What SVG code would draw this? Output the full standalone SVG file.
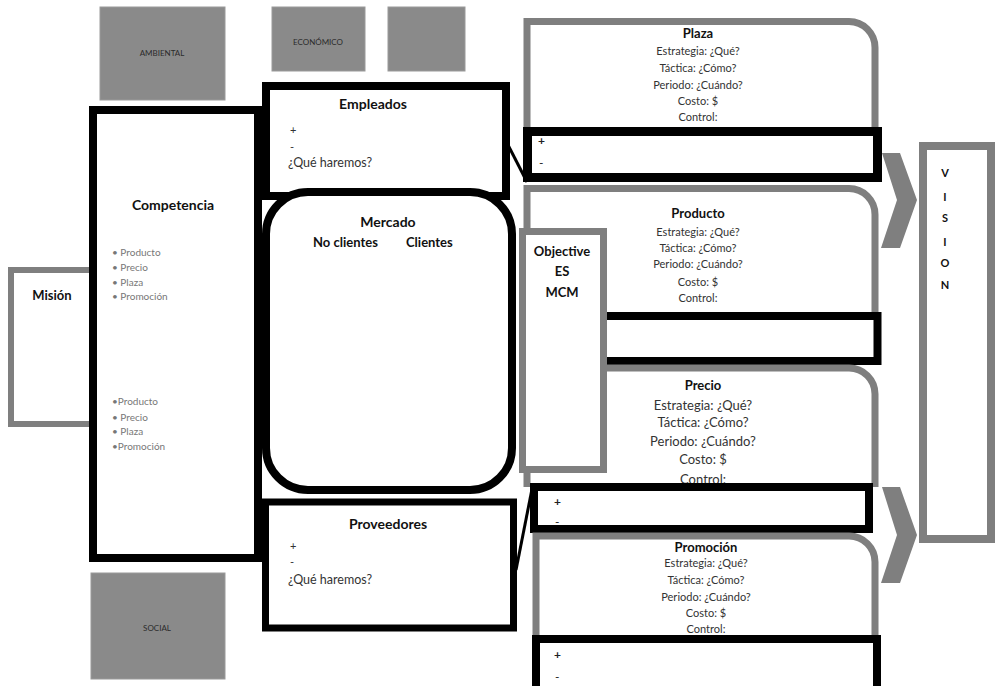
<svg xmlns="http://www.w3.org/2000/svg" width="995" height="686" viewBox="0 0 995 686">
<style>
  .env{fill:#8a8a8a;stroke:#9a9a9a;stroke-width:1}
  .envt{font-family:Lato,"Liberation Sans",sans-serif;font-size:8px;fill:#2a2a2a;text-anchor:middle}
  .blk{fill:#fff;stroke:#000}
  .gry{fill:#fff;stroke:#7f7f7f}
  .ttl{font-family:Lato,"Liberation Sans",sans-serif;font-weight:bold;fill:#111}
  .mid{text-anchor:middle}
  .sm{font-family:Lato,"Liberation Sans",sans-serif;font-size:11px;fill:#333;text-anchor:middle}
  .md{font-family:Lato,"Liberation Sans",sans-serif;font-size:13px;fill:#333;text-anchor:middle}
  .lst{font-family:Lato,"Liberation Sans",sans-serif;font-size:10px;fill:#777}
  .bod{font-family:Lato,"Liberation Sans",sans-serif;font-size:11px;fill:#333}
  .q{font-family:Lato,"Liberation Sans",sans-serif;font-size:12.5px;fill:#333}
  .pm{font-family:Lato,"Liberation Sans",sans-serif;font-size:12px;fill:#222}
  .chev{fill:#7f7f7f}
  .con{stroke:#000;stroke-width:3;fill:none}
</style>

<g id="ambiental"><rect class="env" x="100" y="7" width="125" height="93"/><text class="envt" x="162" y="56">AMBIENTAL</text></g>
<g id="economico"><rect class="env" x="272" y="7" width="93" height="64"/><text class="envt" x="318" y="45">ECONÓMICO</text></g>
<g id="politico"><rect class="env" x="388" y="7" width="77" height="64"/></g>
<g id="social"><rect class="env" x="91" y="573" width="134" height="106"/><text class="envt" x="157" y="631">SOCIAL</text></g>

<g id="mision"><rect class="gry" x="11" y="270" width="90" height="154" stroke-width="6"/><text class="ttl mid" x="52" y="300" font-size="13">Misión</text></g>

<g id="competencia">
  <rect class="blk" x="93" y="110" width="165" height="448" stroke-width="8"/>
  <text class="ttl mid" x="173" y="210" font-size="14">Competencia</text>
  <text class="lst" x="112" y="256">• Producto</text>
  <text class="lst" x="112" y="271">• Precio</text>
  <text class="lst" x="112" y="286">• Plaza</text>
  <text class="lst" x="112" y="300">• Promoción</text>
  <text class="lst" x="112" y="405">•Producto</text>
  <text class="lst" x="112" y="421">• Precio</text>
  <text class="lst" x="112" y="435">• Plaza</text>
  <text class="lst" x="112" y="450">•Promoción</text>
</g>

<g id="empleados">
  <rect class="blk" x="266" y="86" width="240" height="110" stroke-width="8"/>
  <text class="ttl mid" x="373" y="109" font-size="14">Empleados</text>
  <text class="bod" x="290" y="134">+</text>
  <text class="bod" x="290" y="151">-</text>
  <text class="q" x="288" y="167">¿Qué haremos?</text>
</g>

<g id="mercado">
  <rect class="blk" x="266" y="192" width="246" height="298" rx="42" stroke-width="8"/>
  <text class="ttl mid" x="388" y="227" font-size="14">Mercado</text>
  <text class="ttl" x="313" y="247" font-size="13">No clientes</text>
  <text class="ttl" x="406" y="247" font-size="13">Clientes</text>
</g>

<g id="proveedores">
  <rect class="blk" x="265.5" y="502" width="248" height="126" stroke-width="7"/>
  <text class="ttl mid" x="388" y="529" font-size="14">Proveedores</text>
  <text class="bod" x="290" y="550">+</text>
  <text class="bod" x="290" y="566">-</text>
  <text class="q" x="288" y="584">¿Qué haremos?</text>
</g>

<g id="plaza">
  <path class="gry" stroke-width="7" d="M527 182 V21.5 H849 A26 26 0 0 1 875 47.5 V182"/>
  <rect class="blk" x="527.5" y="131.5" width="350" height="46" stroke-width="9"/>
  <text class="ttl mid" x="698" y="38" font-size="13">Plaza</text>
  <text class="sm" x="698" y="55">Estrategia: ¿Qué?</text>
  <text class="sm" x="698" y="72">Táctica: ¿Cómo?</text>
  <text class="sm" x="698" y="89">Periodo: ¿Cuándo?</text>
  <text class="sm" x="698" y="105">Costo: $</text>
  <text class="sm" x="698" y="121">Control:</text>
  <text class="pm" x="538" y="145" font-weight="bold">+</text>
  <text class="pm" x="539" y="167">-</text>
</g>

<g id="producto">
  <path class="gry" stroke-width="7" d="M527 316 V188.5 H849 A26 26 0 0 1 875 214.5 V316"/>
  <rect class="blk" x="527.5" y="316" width="350" height="45" stroke-width="8"/>
  <text class="ttl mid" x="698" y="218" font-size="13">Producto</text>
  <text class="sm" x="698" y="236">Estrategia: ¿Qué?</text>
  <text class="sm" x="698" y="252">Táctica: ¿Cómo?</text>
  <text class="sm" x="698" y="268">Periodo: ¿Cuándo?</text>
  <text class="sm" x="698" y="286">Costo: $</text>
  <text class="sm" x="698" y="302">Control:</text>
</g>

<g id="precio">
  <path class="gry" stroke-width="7" d="M527 487 V368 H849 A26 26 0 0 1 875 394 V487"/>
  <text class="ttl mid" x="703" y="390" font-size="13">Precio</text>
  <text class="md" x="703" y="410">Estrategia: ¿Qué?</text>
  <text class="md" x="703" y="427">Táctica: ¿Cómo?</text>
  <text class="md" x="703" y="446">Periodo: ¿Cuándo?</text>
  <text class="md" x="703" y="464">Costo: $</text>
  <text class="md" x="703" y="484">Control:</text>
  <rect class="blk" x="534" y="487" width="335" height="42" stroke-width="8"/>
  <text class="pm" x="554" y="506" font-weight="bold">+</text>
  <text class="pm" x="555" y="526">-</text>
</g>

<g id="promocion">
  <path class="gry" stroke-width="7" d="M536 640 V536 H849 A26 26 0 0 1 875 562 V686"/>
  <text class="ttl mid" x="706" y="552" font-size="13">Promoción</text>
  <text class="sm" x="706" y="567">Estrategia: ¿Qué?</text>
  <text class="sm" x="706" y="584">Táctica: ¿Cómo?</text>
  <text class="sm" x="706" y="601">Periodo: ¿Cuándo?</text>
  <text class="sm" x="706" y="617">Costo: $</text>
  <text class="sm" x="706" y="633">Control:</text>
  <rect class="blk" x="536" y="639" width="341" height="52" stroke-width="8"/>
  <text class="pm" x="554" y="659" font-weight="bold">+</text>
  <text class="pm" x="555" y="681">-</text>
</g>

<g id="objective">
  <rect class="gry" x="522.5" y="231.5" width="81" height="238" stroke-width="7"/>
  <text class="ttl mid" x="562" y="256" font-size="13">Objective</text>
  <text class="ttl mid" x="562" y="276" font-size="13">ES</text>
  <text class="ttl mid" x="562" y="297" font-size="13">MCM</text>
</g>

<g id="chevrons">
  <polygon class="chev" points="882,153 900,153 917,200 900,248 881,248 897,200"/>
  <polygon class="chev" points="882,487 900,487 917,535 900,583 881,583 897,535"/>
</g>

<g id="vision">
  <rect class="gry" x="923" y="146" width="68" height="393" stroke-width="8"/>
  <g class="ttl mid" font-size="11">
    <text x="945" y="177">V</text>
    <text x="945" y="201">I</text>
    <text x="945" y="222">S</text>
    <text x="945" y="246">I</text>
    <text x="945" y="267">O</text>
    <text x="945" y="289">N</text>
  </g>
</g>

<g id="connectors">
  <line class="con" x1="507" y1="143" x2="527" y2="182"/>
  <line class="con" x1="533" y1="484" x2="516" y2="570"/>
</g>
</svg>
